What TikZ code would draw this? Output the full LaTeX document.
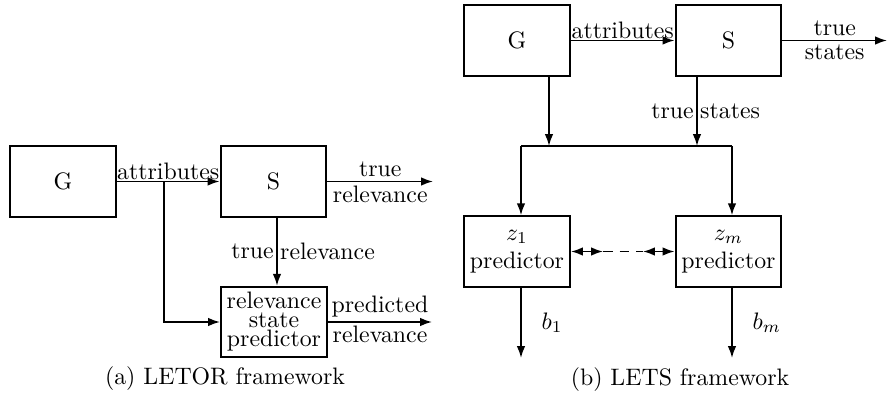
\documentclass[tikz,border=0pt]{standalone}
\usetikzlibrary{arrows.meta,calc}
\begin{document}
\begin{tikzpicture}[x=0.42pt,y=-0.42pt,
  box/.style={draw,line width=0.85pt,minimum width=44.5pt,minimum height=29.6pt,inner sep=0pt,align=center},
  arr/.style={line width=0.7pt,-{Latex[length=5pt,width=3.6pt]}},
  darr/.style={line width=0.7pt,{Latex[length=5pt,width=3.6pt]}-{Latex[length=5pt,width=3.6pt]}},
  plain/.style={line width=0.7pt},
  lbl/.style={inner sep=1.5pt}]
\useasboundingbox (0,0) rectangle (887,394);
% ---------- (a) LETOR ----------
\node[box] (G) at (63,181.5) {G};
\node[box] (S) at (273.5,181.5) {S};
\node[box] (P) at (274,322) {relevance\\[-4pt]state\\[-4pt]predictor};
\coordinate (B) at (164,181.5);
\coordinate (Sout) at (433,181.5);
\coordinate (Pout) at (432,322);
\coordinate (sd) at (277,0);
\draw[arr] (G.east) -- (S.west) node[midway,above,inner sep=0.5pt] {attributes};
\draw[arr] (B) |- (P.west);
\draw[arr] (S.east) -- (Sout) node[midway,above,lbl] {true} node[midway,below,lbl] {relevance};
\draw[arr] (S.south -| sd) -- (P.north -| sd) node[midway,left,inner sep=1pt] {true} node[midway,right,inner sep=1pt] {relevance};
\draw[arr] (P.east) -- (Pout) node[midway,above,lbl] {predicted} node[midway,below,lbl] {relevance};
\node (capa) at (225,379) {(a) LETOR framework};
% ---------- (b) LETS ----------
\node[box] (G2) at (517,40.5) {G};
\node[box] (S2) at (728.5,40.5) {S};
\node[box] (Z1) at (517,251.5) {$z_1$\\predictor};
\node[box] (Zm) at (728.5,251.5) {$z_m$\\predictor};
\coordinate (ga) at (549,0);
\coordinate (sa) at (697,0);
\coordinate (BarL) at (521,146);
\coordinate (BarR) at (732,146);
\coordinate (S2out) at (887,40.5);
\coordinate (d1) at (603,251.5);
\coordinate (d2) at (643,251.5);
\coordinate (ze) at (0,358);
\draw[arr] (G2.east) -- (S2.west) node[midway,above,inner sep=0.5pt] {attributes};
\draw[arr] (S2.east) -- (S2out) node[midway,above,lbl] {true} node[midway,below,lbl] {states};
\draw[arr] (G2.south -| ga) -- (ga |- BarL);
\draw[arr] (S2.south -| sa) -- (sa |- BarR) node[midway,left,inner sep=1pt] {true} node[midway,right,inner sep=1pt] {states};
\draw[plain] (BarL) -- (BarR);
\draw[arr] (BarL) -- (BarL |- Z1.north);
\draw[arr] (BarR) -- (BarR |- Zm.north);
\draw[darr] (Z1.east) -- (d1);
\draw[plain,dash pattern=on 4pt off 3pt] (d1) -- (d2);
\draw[darr] (d2) -- (Zm.west);
\draw[arr] (Z1.south -| BarL) -- (BarL |- ze) node[midway,right=5pt] {$b_1$};
\draw[arr] (Zm.south -| BarR) -- (BarR |- ze) node[midway,right=5pt] {$b_m$};
\node (capb) at (680,380) {(b) LETS framework};
\end{tikzpicture}
\end{document}
